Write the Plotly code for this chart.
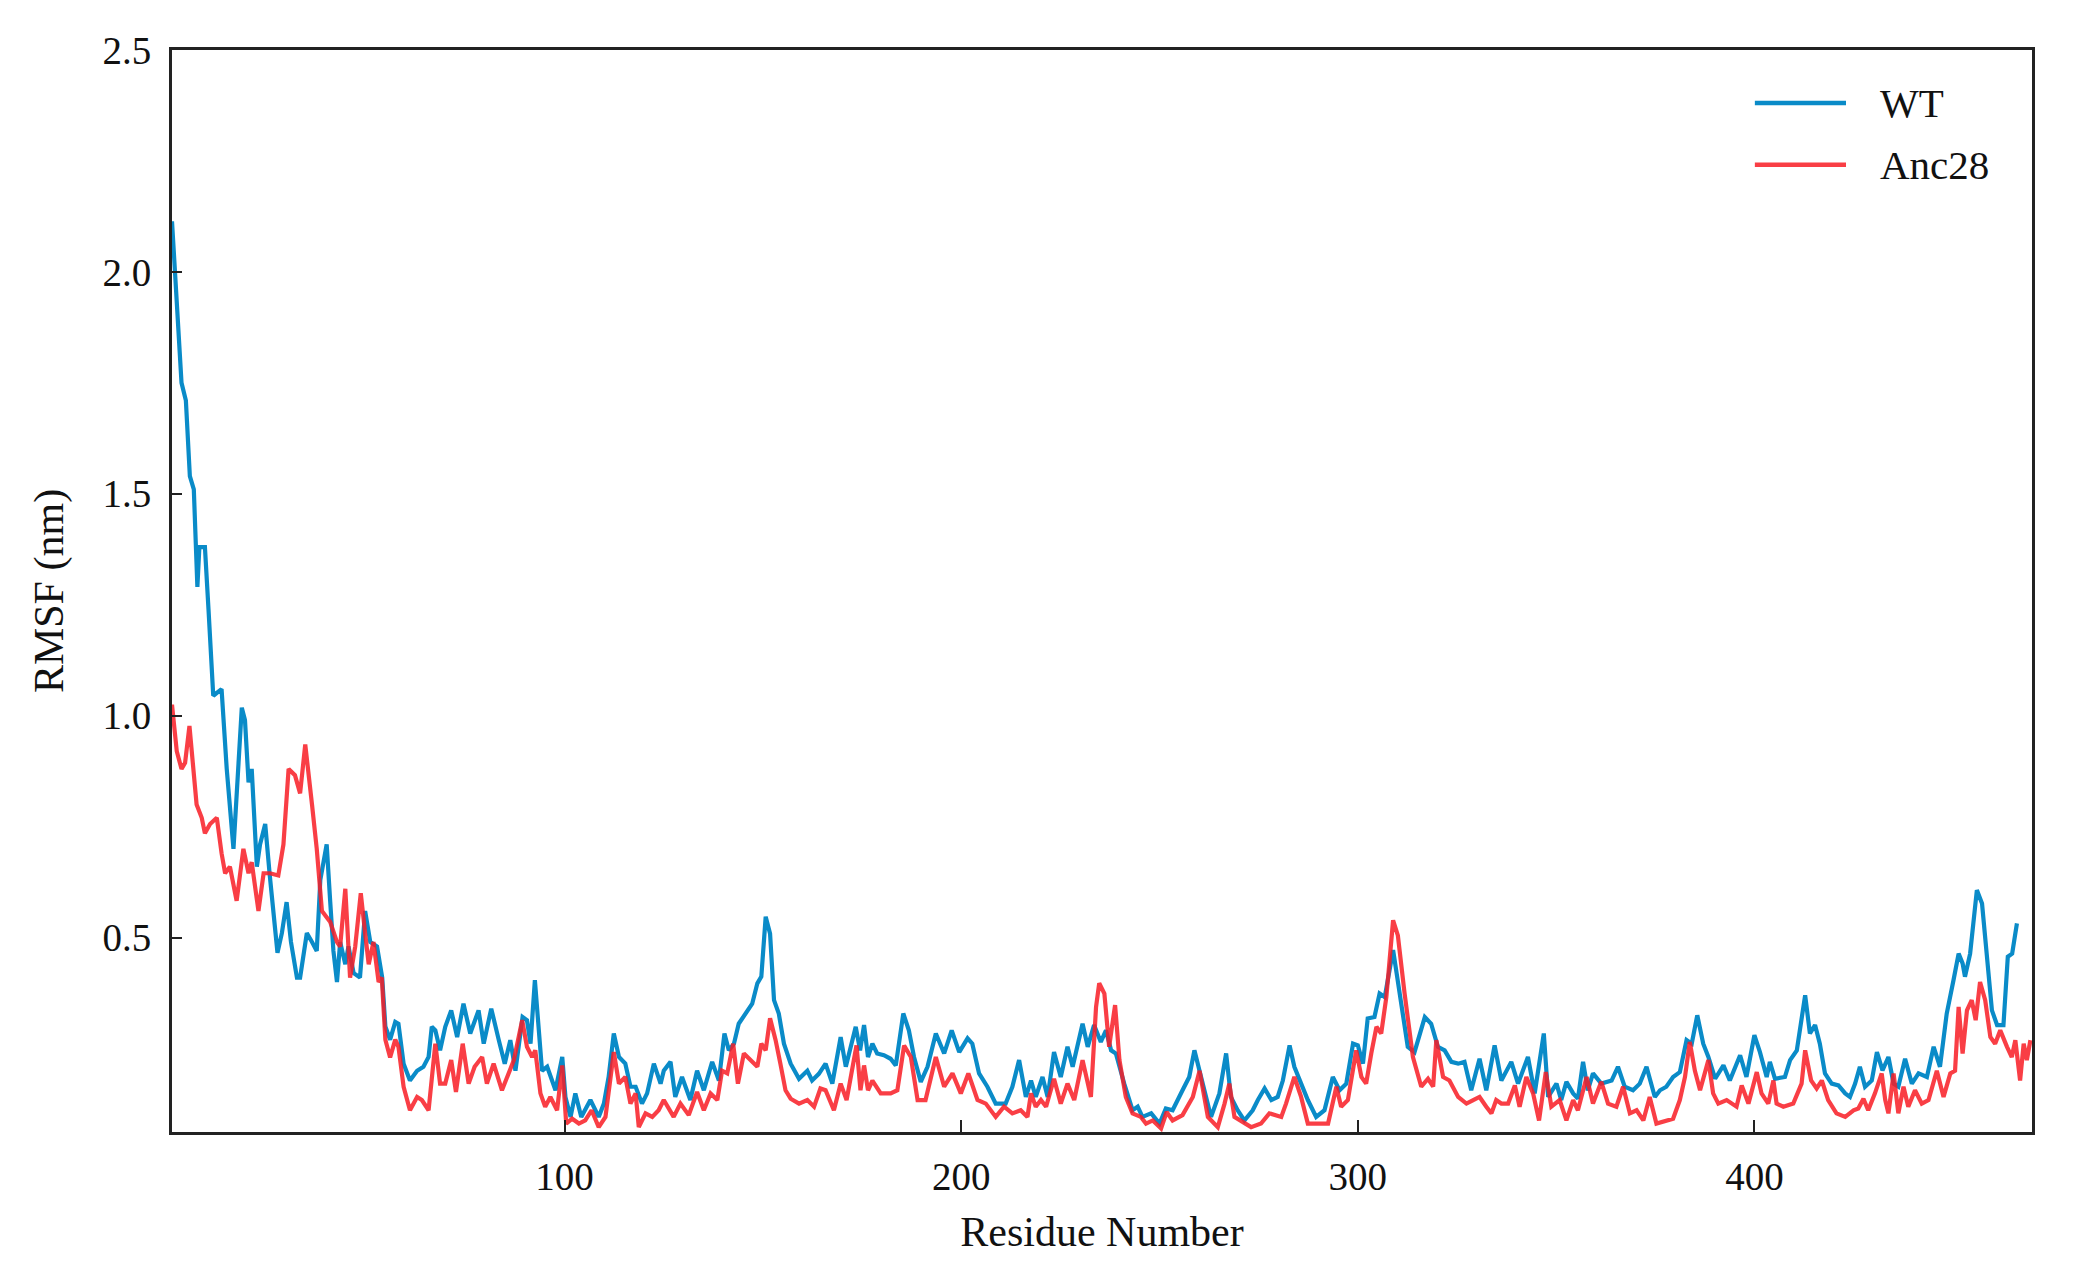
import plotly.graph_objects as go

# ---------------- data ----------------
wt_residue = [1.0, 2.2, 3.4, 4.5, 5.5, 6.5, 7.4, 7.9, 9.3, 10.2, 11.4, 13.5, 14.8, 16.5, 17.3, 18.6, 19.4, 20.3, 21.1, 22.4,
              23.2, 24.5, 25.6, 26.6, 27.6, 28.7, 29.9, 31.0, 32.5, 33.3, 35.0, 36.3, 37.5, 38.4, 40.0, 40.9, 41.7, 42.6, 43.4, 44.7,
              45.5, 46.8, 48.4, 49.7, 51.0, 52.7, 54.0, 54.8, 56.0, 57.3,
              58.1, 59.4, 61.0, 62.8, 64.4, 65.7, 66.5, 67.4, 68.6, 69.9, 71.4, 72.9, 74.5, 76.2, 78.3, 79.6, 81.5, 83.4, 84.9, 86.3,
              87.6, 89.4, 90.5, 91.4, 92.5, 93.5, 94.3, 95.6, 97.7, 99.4, 100.2, 101.5, 102.7, 104.2, 106.5, 108.6, 109.9, 111.1, 112.4, 113.7,
              115.3, 116.6, 117.9, 119.5, 120.8, 122.5, 124.2,
              125.0, 126.7, 127.9, 129.6, 131.7, 133.4, 135.1, 137.2, 138.9, 140.3, 141.4, 142.7, 143.9, 146.0, 147.3, 148.6, 149.6, 150.7, 151.8, 152.8,
              154.0, 155.3, 157.0, 159.1, 161.2, 162.4, 164.1, 165.8, 167.5, 169.6, 170.9, 173.4, 174.5, 175.5, 176.5, 177.6, 178.8, 180.5, 182.2, 183.5,
              185.4, 186.8, 188.1, 189.8, 191.5,
              193.6, 195.7, 197.6, 199.5, 201.6, 202.8, 204.5, 206.6, 208.7, 211.2, 212.9, 214.6, 216.3, 217.6, 218.8, 220.5, 221.8, 223.4, 225.1, 226.8,
              228.1, 230.6, 231.9, 233.5, 235.2, 236.5, 237.8, 239.0, 241.1, 243.2, 244.5, 245.7, 247.9, 250.0, 251.6, 253.3, 255.8, 257.5,
              258.8, 260.5, 263.0, 265.1, 266.8, 268.0, 269.7, 271.4, 273.5, 274.8, 276.5, 278.2, 279.8, 281.1, 282.8, 284.0, 285.7, 287.4, 289.5, 291.6,
              293.7, 295.4, 297.1, 298.8, 300.0, 301.3, 302.5, 304.2, 305.5, 306.8, 308.9, 310.5, 312.6, 314.3, 316.9, 318.5, 320.2, 321.9, 323.6, 325.3,
              326.9, 328.6, 330.7, 332.4, 334.5, 336.2, 338.7, 340.4, 342.9, 344.6, 346.9, 348.0, 350.1, 351.3, 352.6, 354.3, 355.5, 356.8, 358.0, 359.3,
              361.4, 364.0, 365.6, 367.3, 369.4, 371.1, 372.8, 374.9, 376.2, 377.8, 379.5, 381.2, 382.9, 384.2, 385.6, 387.1, 388.4, 390.1, 392.2,
              393.8, 396.4, 398.0, 400.0, 401.4, 403.1, 403.9, 405.2, 407.7, 409.0, 410.7, 411.7, 412.8, 414.0, 415.3, 416.5, 417.8, 419.5, 421.2, 422.9,
              424.1, 425.4, 426.6, 427.9, 429.6, 430.9, 432.3, 433.8, 435.1, 436.3, 438.0, 439.7, 441.4, 443.5, 445.2, 446.8, 448.5, 450.2, 451.5, 452.5,
              453.1, 454.4, 456.1, 457.4, 458.6, 459.9, 461.2, 462.8, 463.9, 465.0, 466.2]
wt_rmsf = [2.114, 1.93, 1.75, 1.71, 1.54, 1.51, 1.29, 1.38, 1.38, 1.24, 1.045, 1.06, 0.88, 0.70, 0.825, 1.018, 0.99, 0.85, 0.88, 0.66,
           0.71, 0.756, 0.645, 0.55, 0.466, 0.51, 0.58, 0.49, 0.41, 0.41, 0.51, 0.49, 0.47, 0.63, 0.71, 0.58, 0.47, 0.40, 0.49, 0.44,
           0.48, 0.42, 0.41, 0.56, 0.49, 0.48, 0.41, 0.30, 0.27, 0.31,
           0.306, 0.216, 0.178, 0.20, 0.209, 0.231, 0.299, 0.291, 0.246, 0.299, 0.336, 0.276, 0.351, 0.284, 0.336, 0.261, 0.34, 0.269, 0.216, 0.269,
           0.20, 0.321, 0.314, 0.261, 0.404, 0.291, 0.20, 0.209, 0.156, 0.231, 0.141, 0.096, 0.149, 0.096, 0.134, 0.096, 0.126, 0.186, 0.284, 0.231,
           0.216, 0.164, 0.164, 0.126, 0.149, 0.216, 0.171,
           0.20, 0.22, 0.141, 0.186, 0.134, 0.20, 0.156, 0.22, 0.178, 0.284, 0.246, 0.261, 0.306, 0.336, 0.351, 0.397, 0.412, 0.547, 0.509, 0.359,
           0.329, 0.261, 0.216, 0.182, 0.20, 0.178, 0.193, 0.216, 0.171, 0.276, 0.209, 0.299, 0.246, 0.303, 0.231, 0.261, 0.239, 0.235, 0.227, 0.212,
           0.329, 0.291, 0.231, 0.175, 0.209,
           0.284, 0.239, 0.291, 0.242, 0.273, 0.261, 0.194, 0.164, 0.126, 0.126, 0.164, 0.224, 0.141, 0.178, 0.141, 0.186, 0.141, 0.242, 0.186, 0.254,
           0.209, 0.306, 0.254, 0.303, 0.265, 0.291, 0.246, 0.239, 0.171, 0.111, 0.119, 0.096, 0.104, 0.081, 0.115, 0.111, 0.156, 0.186,
           0.246, 0.186, 0.096, 0.149, 0.239, 0.141, 0.111, 0.088, 0.111, 0.134, 0.16, 0.134, 0.141, 0.178, 0.257, 0.209, 0.171, 0.134, 0.096, 0.111,
           0.186, 0.156, 0.171, 0.261, 0.257, 0.216, 0.318, 0.321, 0.374, 0.366, 0.472, 0.381, 0.254, 0.242, 0.321, 0.306, 0.254, 0.246, 0.22, 0.216,
           0.22, 0.156, 0.227, 0.156, 0.257, 0.178, 0.22, 0.171, 0.231, 0.149, 0.284, 0.141, 0.171, 0.134, 0.175, 0.149, 0.137, 0.22, 0.156, 0.194,
           0.171, 0.178, 0.209, 0.164, 0.156, 0.171, 0.209, 0.141, 0.156, 0.164, 0.186, 0.197, 0.269, 0.261, 0.325, 0.261, 0.231, 0.182, 0.212,
           0.178, 0.235, 0.186, 0.28, 0.242, 0.186, 0.22, 0.182, 0.186, 0.224, 0.246, 0.306, 0.37, 0.284, 0.303, 0.261, 0.194, 0.171, 0.167, 0.149,
           0.141, 0.171, 0.209, 0.164, 0.178, 0.242, 0.201, 0.231, 0.171, 0.164, 0.227, 0.171, 0.194, 0.186, 0.254, 0.209, 0.329, 0.404, 0.464, 0.442,
           0.412, 0.464, 0.607, 0.577, 0.449, 0.336, 0.303, 0.303, 0.457, 0.464, 0.532]

anc_residue = [1.0, 2.2, 3.4, 4.3, 5.4, 6.4, 7.2, 8.5, 9.3, 10.6, 12.3, 13.5, 14.4, 15.6, 17.3, 19.0, 20.3, 21.1, 22.8, 24.1,
               25.7, 27.8, 29.1, 30.4, 32.0, 33.3, 34.6, 36.3, 37.5, 38.8, 40.9, 42.6, 43.4, 44.7, 45.9, 47.2, 48.6, 49.7, 50.6, 51.8,
               53.1, 53.9, 54.8, 56.0, 57.3,
               58.1, 59.4, 61.0, 62.8, 64.0, 65.7, 67.4, 68.6, 69.9, 71.4, 72.6, 74.3, 75.8, 77.3, 79.2, 80.4, 82.1, 84.2, 87.2, 89.3,
               90.5, 91.8, 92.6, 93.9, 95.1, 96.4, 98.1, 99.4, 100.4, 101.9, 103.6, 105.2, 106.8, 108.6, 110.3, 112.4, 113.7, 115.3, 116.6, 117.9,
               118.7, 120.4, 122.1, 123.7,
               125.0, 127.5, 129.2, 131.3, 133.4, 135.1, 136.8, 138.5, 139.7, 141.0, 142.5, 143.7, 145.2, 146.9, 148.6, 149.6, 150.7, 151.8, 153.2, 154.4,
               155.7, 157.0, 159.1, 161.2, 162.9, 164.5, 165.8, 167.9, 169.6, 171.1, 173.6, 174.6, 175.5, 176.5, 177.6, 179.7, 182.2, 183.9, 185.6, 187.3,
               189.0, 191.0,
               193.6, 195.7, 197.8, 199.9, 201.8, 204.1, 206.2, 208.7, 210.8, 212.9, 215.0, 216.7, 217.6, 218.8, 220.1, 221.4, 223.4, 225.1, 226.8, 228.5,
               230.6, 232.7, 234.0, 234.8, 236.1, 237.3, 238.8, 239.9, 241.5, 243.2, 245.3, 246.6, 248.3, 250.4, 251.8, 253.3, 255.8, 258.4,
               260.1, 262.2, 264.7, 266.4, 267.6, 268.9, 271.4, 273.1, 275.6, 277.7, 280.7, 281.9, 284.0, 285.7, 287.4, 289.9, 292.5, 294.6, 295.8, 297.5,
               299.6, 300.9, 302.1, 303.4, 304.7, 305.9, 307.2, 308.9, 310.1, 311.8, 313.9, 316.0, 317.7, 319.0, 319.8, 321.5, 323.1, 325.3,
               327.4, 329.1, 330.7, 332.4, 333.7, 334.9, 336.2, 337.9, 339.6, 340.8, 342.5, 344.2, 345.7, 347.4, 348.8, 350.9, 352.6, 354.3, 355.5, 357.7,
               359.3, 361.4, 363.1, 365.2, 366.9, 368.6, 370.3, 372.0, 373.6, 375.3, 377.8, 379.5, 381.2, 382.5, 383.7, 385.0, 386.3, 387.5, 388.4, 389.6,
               390.9, 393.0,
               395.5, 396.8, 398.5, 400.6, 401.8, 403.5, 404.8, 405.6, 407.3, 409.8, 411.9, 412.8, 414.3, 415.7, 417.0, 418.6, 420.7, 422.9, 425.0, 426.2,
               427.5, 428.7, 430.4, 432.1, 433.0, 433.8, 435.1, 436.3, 437.6, 438.8, 440.5, 442.2, 443.9, 446.0, 447.7, 449.4, 450.6, 451.5, 452.5, 453.6,
               454.8, 455.8, 456.9, 458.2, 459.5, 460.7, 462.0, 463.7, 464.9, 465.8, 467.0, 467.9, 468.7, 469.6]
anc_rmsf = [1.025, 0.92, 0.88, 0.894, 0.977, 0.88, 0.80, 0.77, 0.735, 0.756, 0.77, 0.69, 0.645, 0.66, 0.583, 0.70, 0.645, 0.67, 0.56, 0.645,
            0.645, 0.64, 0.71, 0.88, 0.866, 0.825, 0.935, 0.80, 0.70, 0.56, 0.535, 0.49, 0.48, 0.61, 0.41, 0.48, 0.60, 0.51, 0.44, 0.49,
            0.40, 0.41, 0.27, 0.23, 0.27,
            0.254, 0.164, 0.111, 0.141, 0.134, 0.111, 0.261, 0.171, 0.171, 0.224, 0.152, 0.261, 0.171, 0.209, 0.231, 0.171, 0.216, 0.156, 0.224, 0.314,
            0.254, 0.231, 0.246, 0.149, 0.119, 0.141, 0.111, 0.212, 0.081, 0.092, 0.081, 0.088, 0.111, 0.073, 0.096, 0.242, 0.171, 0.186, 0.126, 0.149,
            0.073, 0.104, 0.096, 0.111,
            0.134, 0.096, 0.126, 0.10, 0.152, 0.111, 0.149, 0.134, 0.20, 0.194, 0.261, 0.171, 0.239, 0.224, 0.209, 0.261, 0.246, 0.318, 0.269, 0.216,
            0.156, 0.137, 0.126, 0.134, 0.119, 0.16, 0.156, 0.111, 0.171, 0.134, 0.257, 0.156, 0.212, 0.156, 0.178, 0.149, 0.149, 0.156, 0.257, 0.231,
            0.134, 0.134,
            0.231, 0.164, 0.194, 0.149, 0.194, 0.134, 0.126, 0.096, 0.119, 0.104, 0.111, 0.096, 0.149, 0.119, 0.134, 0.119, 0.182, 0.126, 0.171, 0.134,
            0.224, 0.141, 0.344, 0.397, 0.374, 0.254, 0.348, 0.224, 0.141, 0.104, 0.096, 0.081, 0.088, 0.07, 0.107, 0.088, 0.10, 0.141,
            0.20, 0.096, 0.073, 0.126, 0.171, 0.096, 0.081, 0.073, 0.081, 0.104, 0.096, 0.126, 0.186, 0.141, 0.081, 0.081, 0.081, 0.164, 0.119, 0.134,
            0.246, 0.186, 0.171, 0.239, 0.299, 0.284, 0.366, 0.539, 0.505, 0.374, 0.231, 0.164, 0.182, 0.164, 0.269, 0.186, 0.178, 0.141,
            0.126, 0.134, 0.141, 0.119, 0.104, 0.134, 0.126, 0.126, 0.167, 0.119, 0.186, 0.149, 0.088, 0.197, 0.119, 0.134, 0.088, 0.134, 0.111, 0.186,
            0.126, 0.175, 0.126, 0.119, 0.164, 0.104, 0.111, 0.088, 0.141, 0.081, 0.088, 0.092, 0.134, 0.186, 0.265, 0.20, 0.156, 0.194, 0.224, 0.149,
            0.126, 0.134,
            0.119, 0.167, 0.126, 0.197, 0.149, 0.126, 0.178, 0.126, 0.119, 0.126, 0.171, 0.246, 0.178, 0.16, 0.178, 0.134, 0.104, 0.096, 0.111, 0.115,
            0.137, 0.111, 0.149, 0.194, 0.134, 0.104, 0.194, 0.104, 0.164, 0.119, 0.156, 0.126, 0.134, 0.20, 0.141, 0.194, 0.20, 0.344, 0.239, 0.336,
            0.359, 0.314, 0.40, 0.359, 0.276, 0.261, 0.291, 0.254, 0.231, 0.269, 0.178, 0.261, 0.224, 0.269]

series_names = ["WT", "Anc28"]
x_ticks = [100, 200, 300, 400]
y_ticks = [0.5, 1.0, 1.5, 2.0, 2.5]
y_tick_labels = ["0.5", "1.0", "1.5", "2.0", "2.5"]

# ---------------- styling ----------------
WT_COLOR = "#0a8bc8"
ANC_COLOR = "rgba(248,28,36,0.85)"
FONT = "Liberation Serif, Times New Roman, serif"

fig = go.Figure()
fig.add_trace(go.Scatter(x=wt_residue, y=wt_rmsf, mode="lines", name=series_names[0],
                         line=dict(color=WT_COLOR, width=4.2), showlegend=False))
fig.add_trace(go.Scatter(x=anc_residue, y=anc_rmsf, mode="lines", name=series_names[1],
                         line=dict(color=ANC_COLOR, width=4.2), showlegend=False))

# custom legend (long line samples as in the reference)
legend_rows = [(series_names[0], WT_COLOR, 0.951), (series_names[1], ANC_COLOR, 0.894)]
for name, color, yy in legend_rows:
    fig.add_shape(type="line", xref="paper", yref="paper", x0=0.851, x1=0.900, y0=yy, y1=yy,
                  line=dict(color=color, width=4.5))
    fig.add_annotation(xref="paper", yref="paper", x=0.917, y=yy, text=name, showarrow=False,
                       xanchor="left", yanchor="middle", font=dict(family=FONT, size=41, color="#111"))

axis_common = dict(showline=True, linecolor="#222", linewidth=3, mirror=True, showgrid=False,
                   zeroline=False, ticks="inside", tickcolor="#222", tickwidth=2,
                   tickfont=dict(family=FONT, size=39, color="#111"), automargin=False)

fig.update_xaxes(range=[1, 470], tickvals=x_ticks, ticklen=12, ticklabelstandoff=8,
                 title=dict(text="Residue Number", font=dict(family=FONT, size=42, color="#111"), standoff=20),
                 **axis_common)
fig.update_yaxes(range=[0.062, 2.5], tickvals=y_ticks, ticktext=y_tick_labels, ticklen=10, ticklabelstandoff=10,
                 title=dict(text="RMSF (nm)", font=dict(family=FONT, size=42, color="#111"), standoff=26),
                 **axis_common)

fig.update_layout(width=2073, height=1282, margin=dict(l=172, r=41, t=50, b=150),
                  paper_bgcolor="white", plot_bgcolor="white", showlegend=False)

fig.write_html("out.html")
